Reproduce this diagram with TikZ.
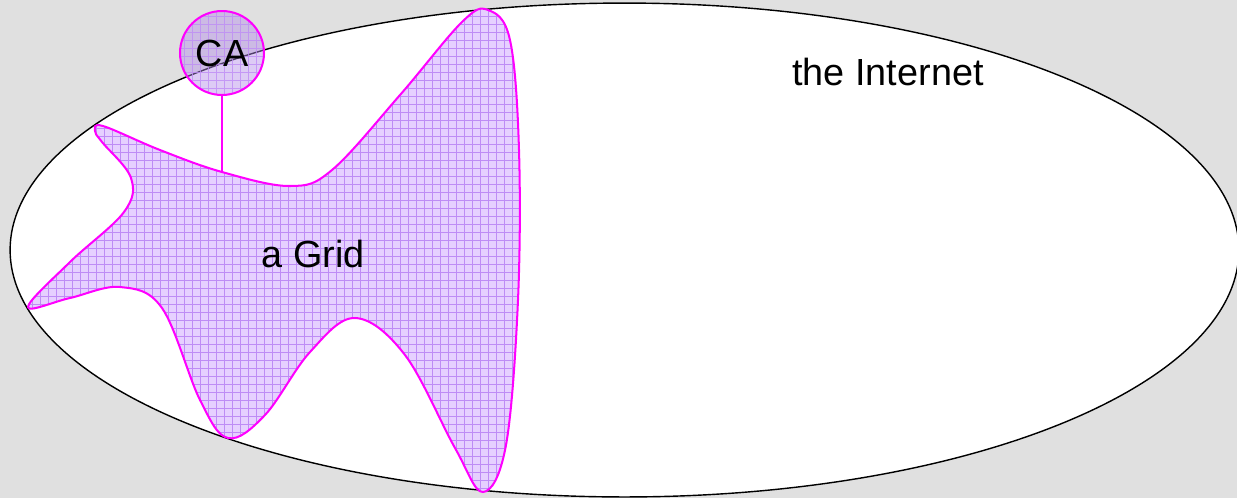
\documentclass[tikz,border=0pt]{standalone}
\usepackage{fontspec}
\setmainfont{Liberation Sans}
\definecolor{bggrey}{RGB}{224,224,224}
\definecolor{blobfill}{RGB}{230,208,255}
\definecolor{gridcol}{RGB}{190,140,245}
\definecolor{magen}{RGB}{255,0,255}
\definecolor{cafill}{RGB}{180,140,235}
\tikzset{
  lbl/.style={font=\fontsize{21.5}{26}\selectfont, inner sep=0pt},
  gridline/.style={draw=gridcol, line width=0.4pt},
  outl/.style={draw=magen, line width=1.15pt},
}
\begin{document}
\begin{tikzpicture}[x=0.02cm,y=-0.02cm]
\fill[bggrey] (0,0) rectangle (1237,498);
\useasboundingbox (0,0) rectangle (1237,498);
\path[fill=white, draw=black, line width=0.8pt] (624.5,250) ellipse [x radius=12.29cm, y radius=4.94cm];
\def\blob{plot[smooth cycle, tension=0.6] coordinates {
 (95,131) (103,126) (160,150) (222,172) (290,186) (332,170) (400,95) (462,22) (488,10) (510,40)
 (519,150) (518,300) (506,445) (483,492) (455,448) (405,355) (355,318) (310,352)
 (265,415) (228,438) (200,400) (162,308) (120,287) (70,298) (28,307) (70,262)
 (124,212) (131,178) (102,142)}}
\begin{scope}
  \clip \blob;
  \fill[blobfill] (0,0) rectangle (1237,498);
  \draw[gridline, step=0.16cm] (0,0) grid (1237,498);
\end{scope}
\draw[outl] \blob;
\coordinate (gridtop) at (222,173);
\node[circle, minimum size=1.68cm, inner sep=0pt] (ca) at (222,53) {};
\begin{scope}
  \clip (222,53) circle [radius=0.84cm];
  \fill[cafill, opacity=0.45] (ca.center) circle [radius=0.84cm];
  \draw[gridline, step=0.16cm, opacity=0.8] (0,0) grid (1237,498);
\end{scope}
\draw[outl] (ca.center) circle [radius=0.84cm];
\node[lbl] at (ca.center) {CA};
\draw[outl] (ca.south) -- (gridtop);
\node[lbl] (inet) at (888,72) {the Internet};
\node[lbl] (grid) at (313,254) {a Grid};
\end{tikzpicture}
\end{document}
